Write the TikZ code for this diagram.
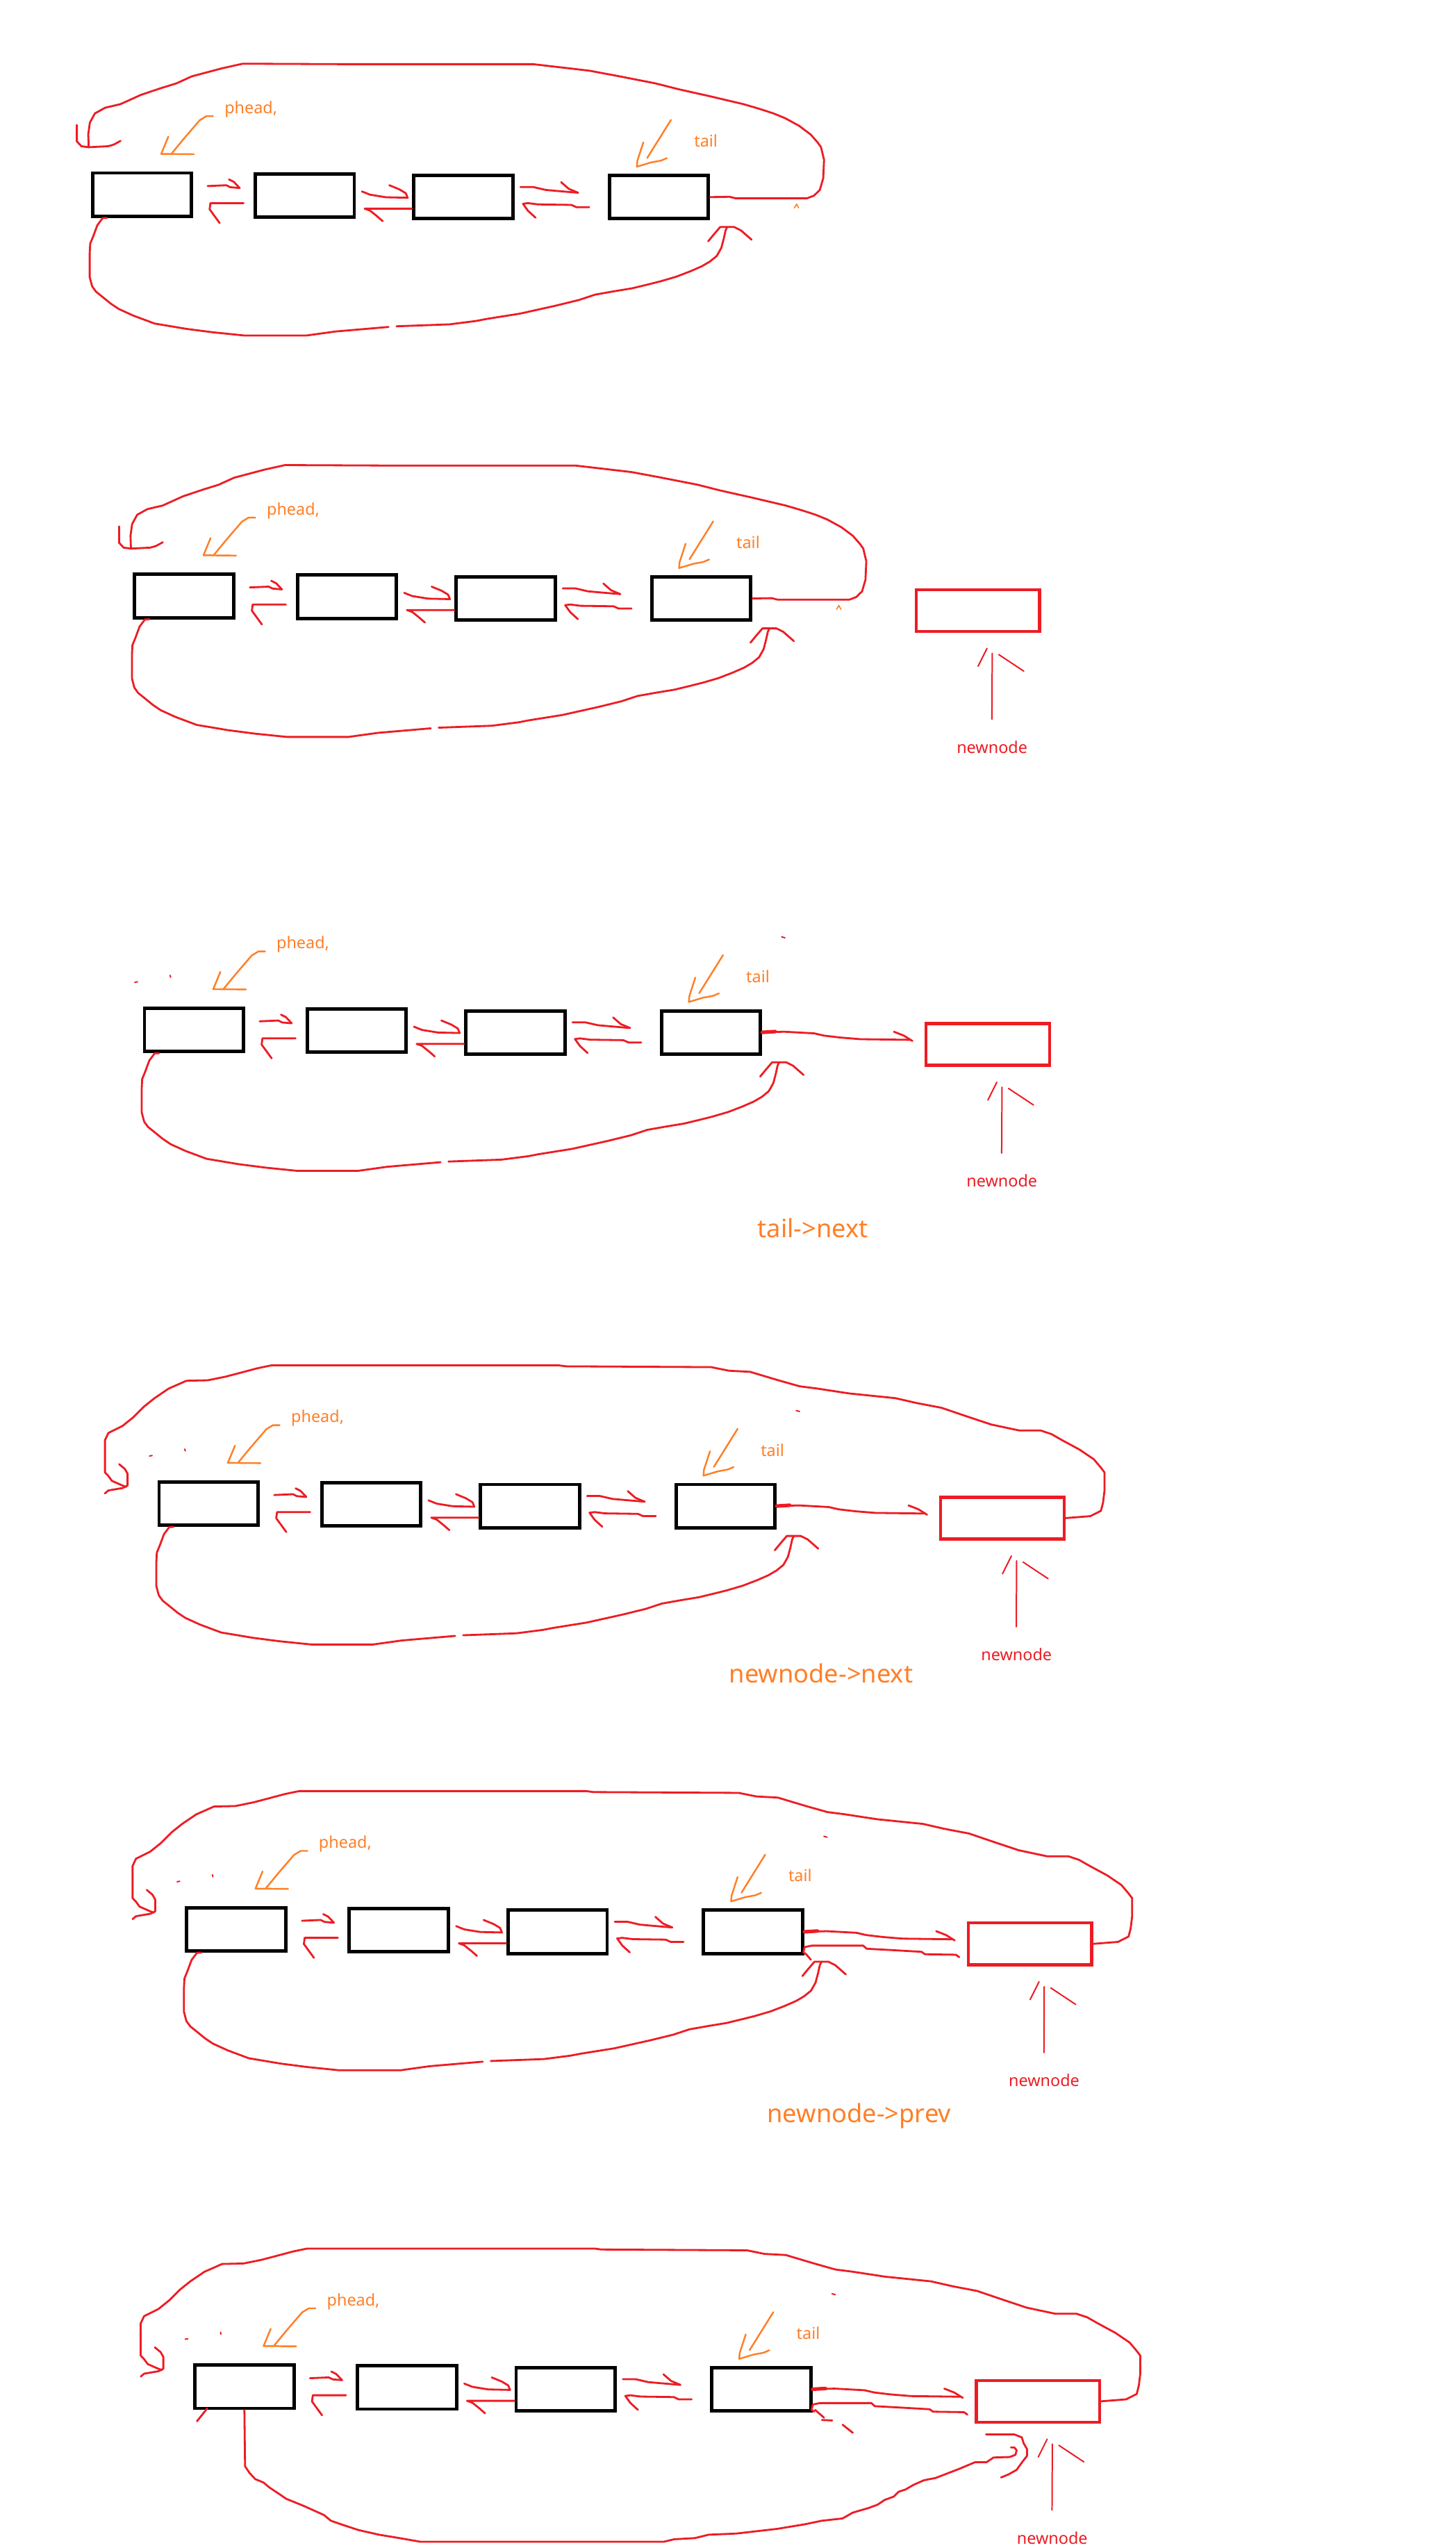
\documentclass[tikz,border=0pt]{standalone}
\usepackage{fontspec}
\newfontfamily\notosans{Noto Sans}
\definecolor{pred}{HTML}{ED1C24}
\definecolor{porange}{HTML}{FF7F27}
\tikzset{
 blackbox/.style={draw=black, line width=2.1pt, minimum width=61pt, minimum height=26.6pt, inner sep=0pt},
 redbox/.style={draw=pred, line width=1.9pt, minimum width=76pt, minimum height=25.7pt, inner sep=0pt},
 redline/.style={draw=pred, line width=1.2pt, line cap=round, line join=round},
 thinred/.style={draw=pred, line width=0.85pt, line cap=round, line join=round},
 orangeline/.style={draw=porange, line width=1.05pt, line cap=round, line join=round},
 lbl/.style={inner sep=0pt, font=\notosans\fontsize{10}{12}\selectfont},
 biglbl/.style={inner sep=0pt, text=porange, font=\notosans\fontsize{15.5}{18}\selectfont},
}
% the four list nodes, the small arrows between them, phead and tail
\newcommand\chainbase[1]{%
 \node[blackbox] (#1b1) at (87.4,119.75) {};
 \node[blackbox] (#1b2) at (187.5,120.2) {};
 \node[blackbox] (#1b3) at (285.1,121.3) {};
 \node[blackbox] (#1b4) at (405.5,121.3) {};
 \draw[redline] (127.8,114.5) -- (139.3,114) -- (141.7,115.2) -- (147.5,115.7);
 \draw[redline] (140.9,110.4) -- (143.9,111.9) -- (147.5,115.7);
 \draw[redline] (149.9,125) -- (129.5,125) -- (129,128.8) -- (131.9,132.8) -- (135.2,137.3);
 \draw[redline] (222.7,117.8) -- (227.7,119.8) -- (237.5,121.4) -- (250.9,121.7);
 \draw[redline] (239.6,114) -- (245.7,116.5) -- (249.7,118.9) -- (250.9,121.7);
 \draw[redline] (#1b3.west |- 0,128.4) -- (224.4,128.4) -- (227.7,129.6) -- (231.7,132.8) -- (235.5,136.1);
 \draw[redline] (320.3,115.1) -- (328.1,115.1) -- (335.9,116.9) -- (348.5,118) -- (355.7,118.6);
 \draw[redline] (345.3,112.1) -- (350,116.2) -- (355.7,118.6);
 \draw[redline] (362.6,127.5) -- (354.7,127.5) -- (351.6,126.1) -- (331.2,125.8) -- (324.9,125) -- (321.8,125.4) -- (324.9,129.7) -- (329.6,134);
 \node[lbl, text=porange, anchor=base west] (#1ph) at (138,69.8) {phead,};
 \node[lbl, text=porange, anchor=base west] (#1tl) at (427,90.5) {tail};
 \draw[orangeline] (131.1,71.5) -- (127,71.5) -- (122.9,74) -- (113.1,85.4) -- (105.7,94.4);
 \draw[orangeline] (103.6,84.1) -- (100,92.8) -- (99.2,94.7) -- (119.3,94.9);
 \draw[orangeline] (412.9,73.8) -- (398.3,97.2);
 \draw[orangeline] (395.9,87.6) -- (392.2,99) -- (391.9,102.6) -- (400.5,100) -- (406.9,98.8) -- (410.4,97.3);
}
% loop from the last node back over the top to the head
\newcommand\toploopA[1]{%
 \draw[redline] (#1b4.east) -- (448.9,121.1) -- (452.5,122) -- (496.7,122) -- (500.9,120.4) -- (504.5,116.9) -- (506.6,109.7) -- (507.1,98.3) -- (505.2,90.5) -- (503.1,87.6) -- (498.8,82.7) -- (491.7,77.4) -- (483.1,72.7) -- (476,69.8) -- (467.4,67) -- (457.5,64.1) -- (436.3,59.1) -- (417.5,54.9) -- (403.3,51.3) -- (379.8,46.7) -- (362.6,43.5) -- (343.7,41.3) -- (328.1,39.5) -- (212.1,39.5) -- (149.4,39.2) -- (136.8,42) -- (118,47) -- (108.6,51.3) -- (99.2,54.2) -- (86.7,58.4) -- (74.1,64.1) -- (64.7,66.3) -- (58.4,69.8) -- (55.3,75.5) -- (54.3,82.7) -- (54.6,90.6);
 \draw[redline] (47.3,76.9) -- (47.3,87) -- (50.1,90) -- (54.6,90.6) -- (66.5,90) -- (70,89) -- (74.2,86.7);
 \draw[orangeline, line width=0.7pt] (488.8,128) -- (490.2,125.6) -- (491.5,128);
}
% loop from the head under the list to the last node
\newcommand\bottomloopA[1]{%
 \draw[redline] ([xshift=10pt]#1b1.south west) -- (63.2,134.2) -- (59.9,138.6) -- (57.5,145.1) -- (55.5,150) -- (55.2,155.8) -- (55.2,170.5) -- (56.7,176.2) -- (59.1,179.5) -- (63.2,182.8) -- (68.1,186.8) -- (73,190.1) -- (82,194.2) -- (95.1,199.1) -- (114.8,202.4) -- (131.1,204.5) -- (150.7,206.5) -- (188.4,206.5) -- (206.4,204) -- (239.1,201.2);
 \draw[redline] (244,200.8) -- (276.7,199.6) -- (293.1,197.5) -- (299.3,196.3) -- (320,193) -- (342,188.1) -- (356.3,184.6) -- (366.3,181.3) -- (377.6,179.3) -- (389.1,177.4) -- (399,175) -- (406.2,173.2) -- (416.1,170.3) -- (424.7,167) -- (431.8,163.9) -- (436.8,161) -- (441.1,157.5) -- (443.9,152.5) -- (445.4,146.8) -- (446.5,141.8) -- (447.5,139.7);
 \draw[redline] (435.8,148.5) -- (439,144.6) -- (443.2,139.7) -- (451.8,139.7) -- (456,141.8) -- (462.5,147.5);
}
% the new node with its pointer and label
\newcommand\newnodepart[1]{%
 \node[redbox] (#1nn) at (575.8,128.7) {};
 \node[lbl, text=pred, anchor=base] (#1nl) at (584.5,216.5) {newnode};
 \draw[thinred] (584.4,195.6) -- (584.6,155);
 \draw[thinred] (575.9,163) -- (581.4,152);
 \draw[thinred] (588.6,155.8) -- (604,166);
}
% tail -> newnode
\newcommand\nextarrow[1]{%
 \draw[redline, line width=2.2pt] (#1b4.east) -- (445,120.8);
 \draw[redline] (#1b4.east) -- (450.6,120.9) -- (469,121.9) -- (475.1,123.3) -- (485.3,124.5) -- (497.6,125.5) -- (528.3,125.9);
 \draw[redline] (518.1,120.9) -- (524.2,123.3) -- (529.5,126.6);
}
% newnode -> tail
\newcommand\prevarrow[1]{%
 \draw[redline] (532.3,136.9) -- (530.2,135.4) -- (511.2,135.1) -- (509.1,133.6) -- (490,132.5) -- (475.3,131.7) -- (473.2,129.8) -- (441.5,129.8) -- (437.2,130.7) -- (436.4,133.9) -- (438.1,135.1);
}
% loop from newnode over the top back to the head
\newcommand\toploopB[1]{%
 \draw[redline] (#1nn.east) -- (630,127.5) -- (636.5,124.2) -- (637.8,119.1) -- (638.7,111.7) -- (638.7,100.6) -- (636.5,97.7) -- (632.1,92.5) -- (623.4,86.6) -- (612.5,80.7) -- (606,77) -- (599.4,74.8) -- (586.3,74.8) -- (568.9,71.1) -- (553.6,66) -- (538.3,60.8) -- (523.1,57.9) -- (510,54.9) -- (481.6,52) -- (462,49) -- (451.1,47.6) -- (438,43.9) -- (420.6,38.7) -- (407.5,38) -- (396.6,35.8) -- (307.1,35.3) -- (302.8,34.7) -- (126.1,34.7) -- (117.4,36.5) -- (106.5,39.4) -- (97.7,41.7) -- (86.8,43.9) -- (73.7,44.2) -- (69.4,46.1) -- (62.8,49) -- (54.1,54.9) -- (47.6,60.1) -- (41,66.7) -- (34.5,71.9) -- (25.7,76.3) -- (23.6,80.7) -- (23.6,100.6) -- (25.7,102.8) -- (27.9,105.8) -- (34.5,108.7) -- (36.6,109.5);
 \draw[redline] (32.3,95.5) -- (35.8,98.4) -- (37.5,101.4) -- (37.5,108.7) -- (34.5,110.2) -- (25.7,111.7) -- (23.6,113.5);
}
% left-over specks of erased strokes
\newcommand\specks{%
 \draw[thinred] (51,90.5) -- (52.6,90.2);
 \draw[thinred] (72.7,86.2) -- (73,87.4);
 \draw[thinred] (449,62.5) -- (451,63.1);
}
\begin{document}
\begin{tikzpicture}[x=1pt, y=-1pt]
\fill[white] (0,0) rectangle (896,1568);
\useasboundingbox (0,0) rectangle (896,1568);
% panel 1
\begin{scope}
 \chainbase{pa}
 \toploopA{pa}
 \bottomloopA{pa}
\end{scope}
% panel 2
\begin{scope}[shift={(26,247)}]
 \chainbase{pb}
 \toploopA{pb}
 \bottomloopA{pb}
 \newnodepart{pb}
\end{scope}
% panel 3
\begin{scope}[shift={(32,514)}]
 \chainbase{pc}
 \bottomloopA{pc}
 \newnodepart{pc}
 \nextarrow{pc}
 \specks
 \node[biglbl, anchor=base west] (pcx) at (434,247.7) {tail->next};
\end{scope}
% panel 4
\begin{scope}[shift={(41,805.5)}]
 \chainbase{pd}
 \bottomloopA{pd}
 \newnodepart{pd}
 \nextarrow{pd}
 \toploopB{pd}
 \specks
 \node[biglbl, anchor=base west] (pdx) at (407.5,230.2) {newnode->next};
\end{scope}
% panel 5
\begin{scope}[shift={(58,1067.5)}]
 \chainbase{pe}
 \bottomloopA{pe}
 \newnodepart{pe}
 \nextarrow{pe}
 \prevarrow{pe}
 \draw[redline] (438.1,135.1) -- (441,138.5);
 \toploopB{pe}
 \specks
 \node[biglbl, anchor=base west] (pex) at (413.9,238.6) {newnode->prev};
\end{scope}
% panel 6
\begin{scope}[shift={(63,1349)}]
 \chainbase{pf}
 \newnodepart{pf}
 \nextarrow{pf}
 \prevarrow{pf}
 \toploopB{pf}
 \specks
 \draw[redline] (438.6,134) -- (444.1,138.8);
 \draw[redline] (442.8,140.2) -- (449.1,140.5);
 \draw[redline] (455.5,143.1) -- (461.8,148.1);
 \draw[redline] (64.5,133.1) -- (58.2,141);
 % head -> newnode, under the list
 \draw[redline] (pfb1.south) -- (87.8,168.7) -- (90.7,173) -- (94.1,176.6) -- (99.2,178.7) -- (102.6,181.6) -- (108.9,185.8) -- (113.1,188.7) -- (123.7,193) -- (136.4,198.7) -- (140.6,202.2) -- (146.9,204.4) -- (157.5,207.9) -- (170.2,210.8) -- (182.9,212.9) -- (195.5,215.1) -- (345.6,215.1) -- (351.9,213.6) -- (364.6,212.9) -- (373.1,210.8) -- (390,210.1) -- (415.3,207.2) -- (432.2,204.4) -- (442.8,202.2) -- (455.5,200.8) -- (461.8,197.2) -- (471.4,194.4) -- (477.1,192.3) -- (481.4,189.4) -- (487.1,187.3) -- (489.9,184.4) -- (494.2,183) -- (499.2,180.1) -- (505.6,177.3) -- (512.7,175.9) -- (518.4,173.7) -- (527,170.4) -- (532.7,168) -- (537,166.2) -- (544.1,166.2) -- (548.4,163.3) -- (558.4,163) -- (561.9,161.6) -- (562.6,158.8) -- (561.2,157.1) -- (559.1,157.1);
 \draw[redline] (543.8,149.1) -- (561.2,149.1) -- (565.8,150.9) -- (566.9,154.5) -- (569,158.1) -- (569,162.3) -- (566.2,165.9) -- (562.6,170.9) -- (557.6,173.7) -- (553,175.6);
\end{scope}
\end{tikzpicture}
\end{document}
